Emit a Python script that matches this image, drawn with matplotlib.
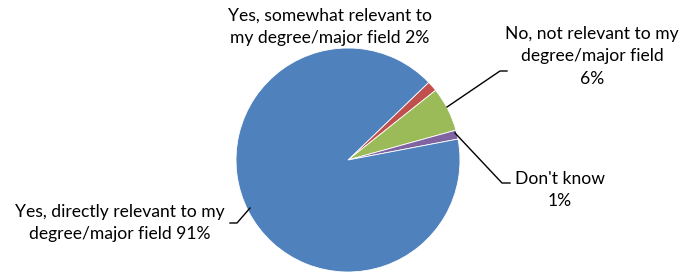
import matplotlib
matplotlib.use("Agg")
import matplotlib.pyplot as plt

categories = ["Yes, somewhat relevant to\nmy degree/major field",
              "No, not relevant to my\ndegree/major field",
              "Don't know",
              "Yes, directly relevant to my\ndegree/major field"]
values = [1.5, 6.4, 1.3, 90.8]
pct_labels = ["2%", "6%", "1%", "91%"]
colors = ["#C0504D", "#9BBB59", "#8064A2", "#4F81BD"]

W, H = 688, 272
fig = plt.figure(figsize=(W / 100, H / 100), dpi=100)
ax = fig.add_axes([0, 0, 1, 1])

cx, cy, r = 348, H - 160, 112
ax.pie(values, colors=colors, startangle=43.9, counterclock=False,
       center=(cx, cy), radius=r, frame=True,
       wedgeprops=dict(edgecolor="white", linewidth=0.6))
ax.set_xlim(0, W)
ax.set_ylim(0, H)
ax.set_aspect("equal")
ax.axis("off")

font = dict(family="Lato", fontsize=12.6, color="#000000", ha="center", va="center",
            linespacing=1.5)

def Y(y):
    return H - y

# label texts
ax.text(330, Y(27), categories[0] + " " + pct_labels[0], **font)
ax.text(592, Y(56), categories[1] + "\n" + pct_labels[1], **font)
ax.text(560, Y(190), categories[2] + "\n" + pct_labels[2], **font)
ax.text(120, Y(223), categories[3] + " " + pct_labels[3], **font)

# leader lines
lw = 1.0
ax.plot([447, 500, 507], [Y(107), Y(71), Y(71)], color="black", lw=lw)
ax.plot([455, 502, 510], [Y(133), Y(183), Y(183)], color="black", lw=lw)
ax.plot([250, 237, 230], [Y(208), Y(223), Y(223)], color="black", lw=lw)

fig.savefig("out.png", dpi=100)
